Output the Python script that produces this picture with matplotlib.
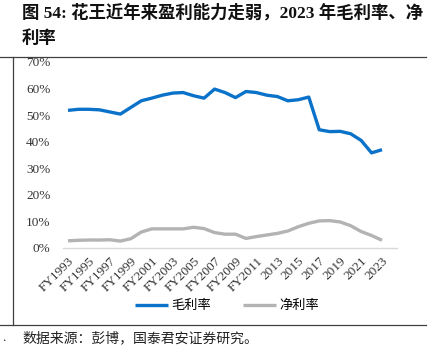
import matplotlib
matplotlib.use("Agg")
import matplotlib.pyplot as plt
from matplotlib.lines import Line2D

plt.rcParams['font.family'] = ['Liberation Serif', 'Noto Sans CJK SC', 'DejaVu Sans']

years = list(range(1993, 2024))
tick_labels = [("FY%d" % y if y <= 2011 else str(y)) if (y - 1993) % 2 == 0 else "" for y in years]
gross_margin = [51.8, 52.2, 52.2, 52.0, 51.2, 50.4, 52.9, 55.4, 56.4, 57.5, 58.3, 58.5,
                57.3, 56.4, 59.8, 58.5, 56.6, 58.9, 58.5, 57.5, 57.0, 55.4, 55.8, 56.8,
                44.5, 43.8, 43.9, 43.0, 40.5, 35.8, 37.0]
net_margin = [2.7, 2.9, 3.0, 3.0, 3.1, 2.6, 3.5, 6.0, 7.2, 7.2, 7.2, 7.2,
              7.8, 7.3, 5.8, 5.2, 5.2, 3.6, 4.3, 4.9, 5.5, 6.4, 8.0, 9.3,
              10.2, 10.3, 9.8, 8.4, 6.2, 4.7, 2.9]
yticks = [0, 10, 20, 30, 40, 50, 60, 70]
series_names = ["毛利率", "净利率"]

W, H = 431, 354
fig = plt.figure(figsize=(W / 100, H / 100), dpi=100)

def fx(px):
    return px / W

def fy(py):
    return 1 - py / H

# frame lines
frame_col = "#404040"
fig.add_artist(Line2D([fx(0), fx(426)], [fy(57), fy(57)], color=frame_col, lw=0.9))
fig.add_artist(Line2D([fx(0), fx(426)], [fy(325), fy(325)], color=frame_col, lw=0.9))
fig.add_artist(Line2D([fx(13), fx(13)], [fy(57), fy(325)], color=frame_col, lw=0.9))

fig.text(fx(22), fy(13), "图 54: 花王近年来盈利能力走弱，2023 年毛利率、净",
         fontsize=12.5, fontweight='bold', va='center', ha='left', color="#111111")
fig.text(fx(22), fy(39), "利率", fontsize=12.5, fontweight='bold', va='center', ha='left', color="#111111")
fig.text(fx(22), fy(338), "数据来源：彭博，国泰君安证券研究。", fontsize=10, va='center', ha='left', color="#222222")
fig.text(fx(2), fy(338), ".", fontsize=9, va='center', ha='left', color="#222222")

ax = fig.add_axes([fx(63), fy(248), fx(397) - fx(63), fy(62) - fy(248)])
x = list(range(len(years)))
ax.plot(x, gross_margin, color="#0B72C9", lw=2.4, solid_capstyle='butt', clip_on=False, label=series_names[0])
ax.plot(x, net_margin, color="#B3B3B3", lw=2.4, solid_capstyle='butt', clip_on=False, label=series_names[1])

ax.set_xlim(-0.48, 31.43)
ax.set_ylim(0, 70)
ax.set_yticks(yticks)
ax.set_yticklabels(["%d%%" % v for v in yticks], fontsize=9.5, color="#333333")
ax.set_xticks(x)
ax.set_xticklabels(tick_labels, rotation=45, ha='right', rotation_mode='anchor', fontsize=9.5, color="#333333")
ax.tick_params(axis='both', length=0)
ax.tick_params(axis='y', pad=9)
ax.tick_params(axis='x', pad=5)
for s in ['top', 'right', 'left']:
    ax.spines[s].set_visible(False)
ax.spines['bottom'].set_color("#D9D9D9")
ax.spines['bottom'].set_linewidth(1.0)

leg = fig.legend(handles=ax.get_lines(), labels=series_names, loc='center',
                 bbox_to_anchor=(fx(227), fy(306)), ncol=2, frameon=False,
                 fontsize=9.5, handlelength=2.5, columnspacing=2.5, handletextpad=0.2)

fig.savefig("out.png", dpi=100)
